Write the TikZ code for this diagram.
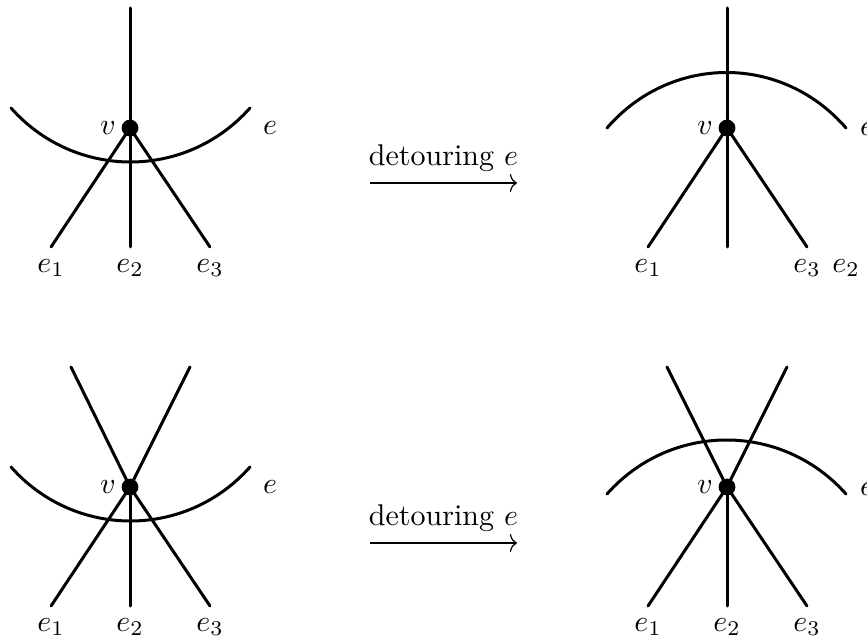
\documentclass[tikz,border=0pt]{standalone}
\usepackage{tikz}
\usetikzlibrary{arrows.meta,positioning}
\tikzset{
  vertex/.style={
    circle,
    fill=black,
    inner sep=0pt,
    minimum size=5.6pt
  },
  graphedge/.style={
    line width=1pt,
    line cap=round
  },
  detourarrow/.style={
    -{To[length=2.4pt,width=6pt]},
    line width=0.4pt
  }
}

\begin{document}
\begin{tikzpicture}[x=0.3333pt, y=-0.3333pt]
    \useasboundingbox (0,0) rectangle (867,639);

    % top left, before detouring
    \node[vertex] (va) at (130,128) {};
    \coordinate (ta) at (130,8);
    \coordinate (a1) at (51,247);
    \coordinate (a2) at (130,247);
    \coordinate (a3) at (210,247);
    \coordinate (eas) at (11,108);
    \coordinate (eat) at (250,108);
    \draw[graphedge] (ta) -- (va.center);
    \draw[graphedge] (va.center) -- (a1);
    \draw[graphedge] (va.center) -- (a2);
    \draw[graphedge] (va.center) -- (a3);
    \draw[graphedge] (eas) .. controls +(64,72) and +(-64,72) .. (eat);
    \node (lva) at (108,128) {$v$};
    \node (lea) at (270,128) {$e$};
    \node (la1) at (51,268) {$e_1$};
    \node (la2) at (130,268) {$e_2$};
    \node (la3) at (210,268) {$e_3$};

    % top right, after detouring
    \node[vertex] (vb) at (727,128) {};
    \coordinate (tb) at (727,8);
    \coordinate (b1) at (648,247);
    \coordinate (b2) at (727,247);
    \coordinate (b3) at (807,247);
    \coordinate (ebs) at (607,128);
    \coordinate (ebt) at (846,128);
    \draw[graphedge] (tb) -- (vb.center);
    \draw[graphedge] (vb.center) -- (b1);
    \draw[graphedge] (vb.center) -- (b2);
    \draw[graphedge] (vb.center) -- (b3);
    \draw[graphedge] (ebs) .. controls +(64,-74) and +(-64,-74) .. (ebt);
    \node (lvb) at (705,128) {$v$};
    \node (leb) at (867,129) {$e$};
    \node (lb1) at (648,268) {$e_1$};
    \node (lb3) at (807,268) {$e_3$};
    \node (lb2) at (846,268) {$e_2$};

    % bottom left, before detouring
    \node[vertex] (vc) at (130,487) {};
    \coordinate (uc1) at (71,367);
    \coordinate (uc2) at (190,367);
    \coordinate (c1) at (51,606);
    \coordinate (c2) at (130,606);
    \coordinate (c3) at (210,606);
    \coordinate (ecs) at (11,467);
    \coordinate (ect) at (250,467);
    \draw[graphedge] (uc1) -- (vc.center);
    \draw[graphedge] (uc2) -- (vc.center);
    \draw[graphedge] (vc.center) -- (c1);
    \draw[graphedge] (vc.center) -- (c2);
    \draw[graphedge] (vc.center) -- (c3);
    \draw[graphedge] (ecs) .. controls +(64,72) and +(-64,72) .. (ect);
    \node (lvc) at (108,487) {$v$};
    \node (lec) at (270,487) {$e$};
    \node (lc1) at (51,627) {$e_1$};
    \node (lc2) at (130,627) {$e_2$};
    \node (lc3) at (210,627) {$e_3$};

    % bottom right, after detouring
    \node[vertex] (vd) at (727,487) {};
    \coordinate (ud1) at (667,367);
    \coordinate (ud2) at (787,367);
    \coordinate (d1) at (648,606);
    \coordinate (d2) at (727,606);
    \coordinate (d3) at (807,606);
    \coordinate (eds) at (607,494);
    \coordinate (edt) at (846,494);
    \draw[graphedge] (ud1) -- (vd.center);
    \draw[graphedge] (ud2) -- (vd.center);
    \draw[graphedge] (vd.center) -- (d1);
    \draw[graphedge] (vd.center) -- (d2);
    \draw[graphedge] (vd.center) -- (d3);
    \draw[graphedge] (eds) .. controls +(64,-72) and +(-64,-72) .. (edt);
    \node (lvd) at (705,487) {$v$};
    \node (led) at (867,489) {$e$};
    \node (ld1) at (648,627) {$e_1$};
    \node (ld2) at (727,627) {$e_2$};
    \node (ld3) at (807,627) {$e_3$};

    % the two detour steps
    \coordinate (s1) at (370,183);
    \coordinate (t1) at (517,183);
    \draw[detourarrow] (s1) -- node[above=0.4pt] (dt1) {detouring $e$} (t1);
    \coordinate (s2) at (370,543);
    \coordinate (t2) at (517,543);
    \draw[detourarrow] (s2) -- node[above=0.4pt] (dt2) {detouring $e$} (t2);
\end{tikzpicture}
\end{document}
